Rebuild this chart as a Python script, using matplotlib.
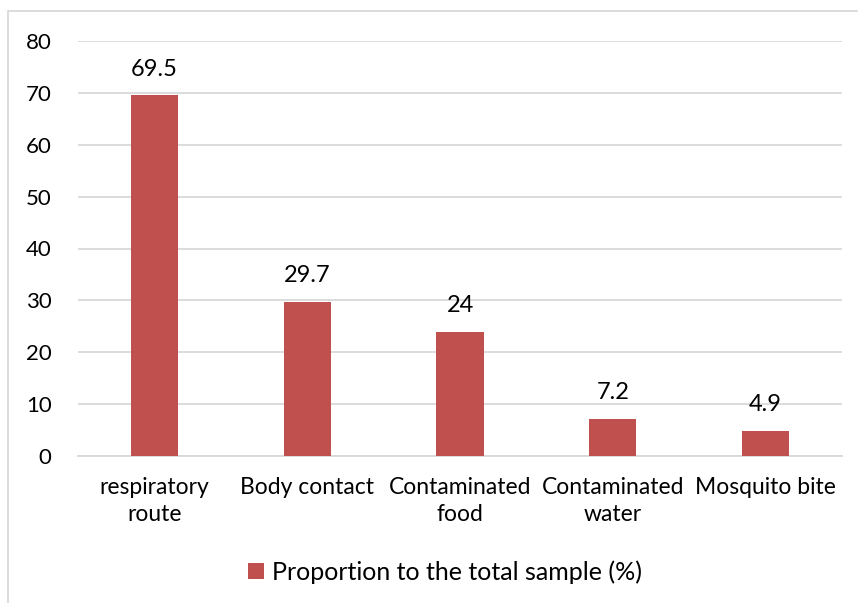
import matplotlib.pyplot as plt
from matplotlib.patches import Rectangle

# data
categories = ['respiratory\nroute', 'Body contact', 'Contaminated\nfood', 'Contaminated\nwater', 'Mosquito bite']
values = [69.5, 29.7, 24, 7.2, 4.9]
value_labels = ['69.5', '29.7', '24', '7.2', '4.9']
series_name = 'Proportion to the total sample (%)'
yticks = [0, 10, 20, 30, 40, 50, 60, 70, 80]

plt.rcParams['font.family'] = ['Lato', 'DejaVu Sans']

fig = plt.figure(figsize=(8.58, 6.03), dpi=100)
ax = fig.add_axes([78/858, 1 - 456/603, (842-78)/858, (456-41)/603])

x = range(len(categories))
bars = ax.bar(x, values, width=0.31, color='#C0504D', label=series_name, zorder=3)

for xi, v, t in zip(x, values, value_labels):
    ax.text(xi, v + 3.0, t, ha='center', va='bottom', fontsize=17, color='black')

ax.set_xlim(-0.5, len(categories) - 0.5)
ax.set_ylim(0, 80)
ax.set_yticks(yticks)
ax.set_xticks(list(x))
ax.set_xticklabels(categories, fontsize=16.5, linespacing=1.35)
ax.tick_params(axis='y', labelsize=16, length=0, pad=19)
ax.tick_params(axis='x', length=0, pad=15)
ax.grid(axis='y', color='#D9D9D9', linewidth=1.3, zorder=0)
for s in ['top', 'right', 'left']:
    ax.spines[s].set_visible(False)
ax.spines['bottom'].set_color('#D9D9D9')
ax.spines['bottom'].set_linewidth(1.3)

leg = fig.legend(loc='center', bbox_to_anchor=(445/858, 1 - 572/603), frameon=False,
                 fontsize=18, handlelength=0.65, handleheight=0.65, handletextpad=0.3)

# outer chart border (cropped at right/bottom)
fig.patches.append(Rectangle((8/858, -0.1), 1.2, 1 - 11/603 + 0.1, transform=fig.transFigure,
                             fill=False, edgecolor='#D9D9D9', linewidth=1.3))

fig.savefig('out.png', dpi=100)
